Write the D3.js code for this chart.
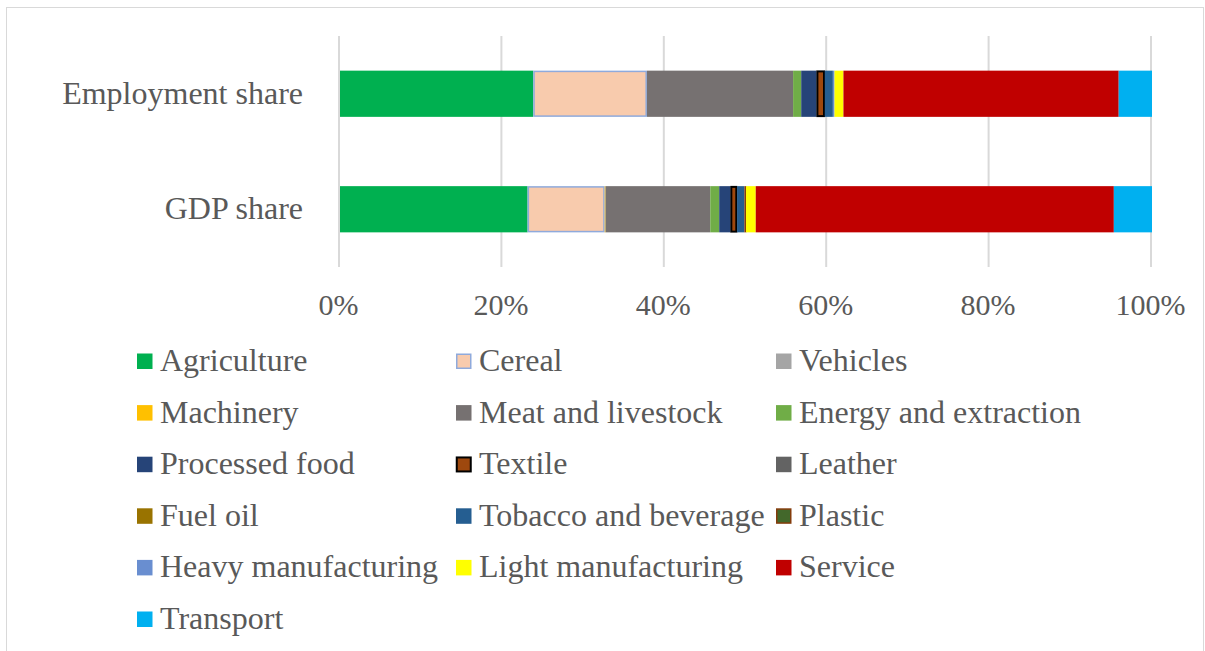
<!DOCTYPE html>
<html>
<head>
<meta charset="utf-8">
<script src="https://cdn.jsdelivr.net/npm/d3@7"></script>
<style>
  html, body { margin: 0; padding: 0; background: #fff; }
  svg { display: block; }
  text { font-family: "Liberation Serif", "Times New Roman", serif; fill: #595959; }
</style>
</head>
<body>
<svg id="chart" width="1205" height="651"></svg>
<script>
// Shares by sector (%), one value per category
const categories = ["Employment share", "GDP share"];
const sectors = [
  "Agriculture", "Cereal", "Vehicles", "Machinery", "Meat and livestock",
  "Energy and extraction", "Processed food", "Textile", "Leather", "Fuel oil",
  "Tobacco and beverage", "Plastic", "Heavy manufacturing", "Light manufacturing",
  "Service", "Transport"
];
const employmentShare = [23.8, 14.0, 0, 0, 18.0, 1.0, 1.9, 1.0, 0, 0, 1.0, 0, 0.2, 1.1, 33.9, 4.1];
const gdpShare        = [23.1, 9.5, 0, 0.1, 12.9, 1.1, 1.4, 0.8, 0, 0, 0.9, 0.2, 0, 1.2, 44.1, 4.7];
const tickValues = [0, 20, 40, 60, 80, 100];

const fills = ["#00B050", "#F8CBAD", "#A5A5A5", "#FFC000", "#767171", "#70AD47", "#264478", "#9E480E",
               "#636363", "#997300", "#255E91", "#43682B", "#698ED0", "#FFFF00", "#C00000", "#00B0F0"];
const strokes = { "Cereal": "#8FAADC", "Textile": "#000000", "Plastic": "#843C0C" };

const svg = d3.select("#chart");

// outer chart border
svg.append("rect")
  .attr("x", 6.5).attr("y", 7.5).attr("width", 1197).attr("height", 700)
  .attr("fill", "none").attr("stroke", "#d9d9d9").attr("stroke-width", 1);

const x = d3.scaleLinear().domain([0, 100]).range([340, 1152]);
const y = d3.scaleBand().domain(categories).range([36, 267]).paddingInner(0.6).paddingOuter(0.3);

// gridlines
svg.append("g").selectAll("line").data(tickValues).join("line")
  .attr("x1", d => x(d) - 1).attr("x2", d => x(d) - 1)
  .attr("y1", 36).attr("y2", 267)
  .attr("stroke", "#d9d9d9").attr("stroke-width", 2);

// stacked data
const rows = categories.map((c, i) => {
  const vals = i === 0 ? employmentShare : gdpShare;
  const r = { category: c };
  sectors.forEach((s, j) => r[s] = vals[j]);
  return r;
});
const stacked = d3.stack().keys(sectors)(rows);

const color = d3.scaleOrdinal().domain(sectors).range(fills);

svg.append("g").selectAll("g").data(stacked).join("g")
  .attr("fill", d => color(d.key))
  .each(function(series) {
    const st = strokes[series.key];
    d3.select(this).selectAll("rect")
      .data(series.filter(d => d[1] - d[0] > 0))
      .join("rect")
      .attr("x", d => x(d[0]) + (st ? 0.75 : 0))
      .attr("y", d => y(d.data.category) + (st ? 0.75 : 0))
      .attr("width", d => Math.max(0.5, x(d[1]) - x(d[0]) - (st ? 1.5 : 0)))
      .attr("height", y.bandwidth() - (st ? 1.5 : 0))
      .attr("stroke", st || "none")
      .attr("stroke-width", st ? (series.key === "Textile" ? 2 : 1.5) : 0);
  });

// category labels
svg.append("g").selectAll("text").data(categories).join("text")
  .attr("x", 303)
  .attr("y", d => y(d) + y.bandwidth() / 2 + 10)
  .attr("text-anchor", "end")
  .attr("font-size", 32)
  .text(d => d);

// x axis tick labels
const axis = d3.axisBottom(x).tickValues(tickValues).tickFormat(d => d + "%").tickSize(0).tickPadding(0);
const axG = svg.append("g").attr("transform", "translate(0,293)").call(axis);
axG.select(".domain").remove();
axG.selectAll("text")
  .attr("font-size", 30)
  .attr("font-family", "Liberation Serif, Times New Roman, serif")
  .attr("fill", "#595959")
  .attr("dy", "0.72em")
  .attr("x", -2);

// legend
const colX = [137, 456, 776];
const legend = svg.append("g").selectAll("g").data(sectors).join("g")
  .attr("transform", (d, i) => `translate(${colX[i % 3]},${361 + Math.floor(i / 3) * 51.6})`);
legend.append("rect")
  .attr("x", d => strokes[d] ? 0.75 : 0)
  .attr("y", d => -7.5 + (strokes[d] ? 0.75 : 0))
  .attr("width", d => strokes[d] ? 14 : 15.5)
  .attr("height", d => strokes[d] ? 14 : 15.5)
  .attr("fill", d => color(d))
  .attr("stroke", d => strokes[d] || "none")
  .attr("stroke-width", d => d === "Textile" ? 2 : 1.5);
legend.append("text")
  .attr("x", 23)
  .attr("y", 10)
  .attr("font-size", 32)
  .text(d => d);
</script>
</body>
</html>
